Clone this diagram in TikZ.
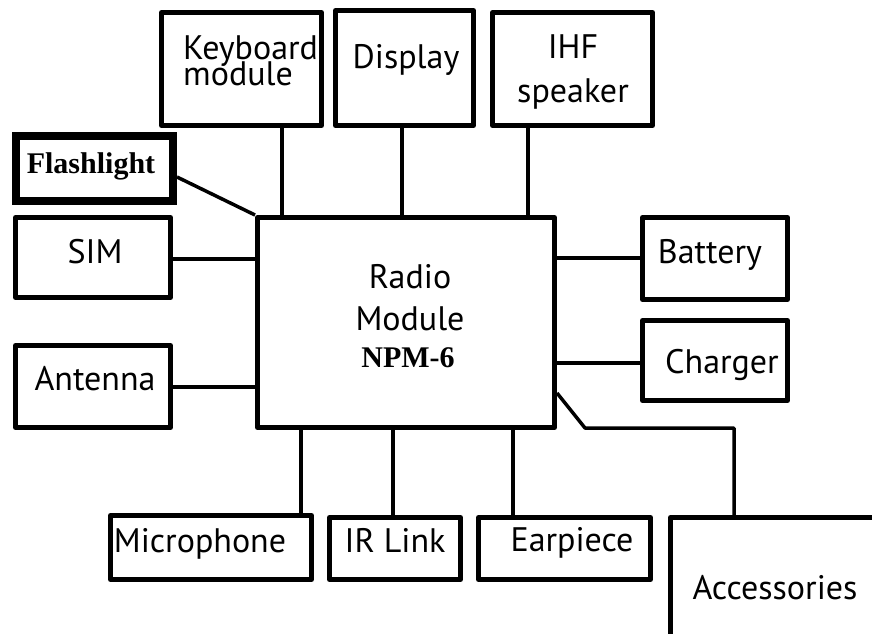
\documentclass[tikz,border=0pt]{standalone}
\usepackage{fontspec}
\setmainfont{PT Sans}
\newfontfamily\npmfont{Liberation Serif}
\begin{document}
\begin{tikzpicture}[x=1pt,y=-1pt,
  blk/.style={draw=black,line width=5pt,rectangle,inner sep=0pt,line join=round},
  thk/.style={draw=black,line width=8pt,rectangle,inner sep=0pt},
  conn/.style={draw=black,line width=3.5pt},
  txt/.style={inner sep=0pt,anchor=base,font=\fontsize{34}{25}\selectfont},
  stxt/.style={inner sep=0pt,anchor=base,font=\npmfont\bfseries\fontsize{30}{30}\selectfont}]
\useasboundingbox (0,0) rectangle (872,633);
\clip (0,0) rectangle (872,633);
% boxes
\node[blk,minimum width=160pt,minimum height=113pt] (kb) at (241.5,69) {};
\node[blk,minimum width=138pt,minimum height=115pt] (disp) at (404.5,68) {};
\node[blk,minimum width=160pt,minimum height=113pt] (ihf) at (572.5,69) {};
\node[thk,minimum width=157pt,minimum height=65pt] (flash) at (94.5,168.5) {};
\node[blk,minimum width=155pt,minimum height=80pt] (sim) at (93,257.5) {};
\node[blk,minimum width=155pt,minimum height=82pt] (ant) at (93,386.5) {};
\node[blk,minimum width=297pt,minimum height=210pt] (radio) at (406,322.5) {};
\node[blk,minimum width=145pt,minimum height=82pt] (batt) at (715,258.5) {};
\node[blk,minimum width=145pt,minimum height=80pt] (chg) at (715,360.5) {};
\node[blk,minimum width=201pt,minimum height=64pt] (mic) at (211,547.5) {};
\node[blk,minimum width=131pt,minimum height=62pt] (ir) at (395,548.5) {};
\node[blk,minimum width=172pt,minimum height=62pt] (ear) at (564.5,548.5) {};
\node[blk,minimum width=280pt,minimum height=181pt] (acc) at (810.5,608) {};
% texts
\node[txt,anchor=base west,align=left] (kbt) at (183,85) {Keyboard\\[-6pt]module};
\node[txt] (dispt) at (406,68) {Display};
\node[txt,align=center,font=\fontsize{34}{44}\selectfont] (ihft) at (573,102) {IHF\\speaker};
\node[stxt] (flasht) at (91,173) {Flashlight};
\node[txt] (simt) at (95,263) {SIM};
\node[txt] (antt) at (95,390) {Antenna};
\node[txt,align=center,font=\fontsize{34}{42}\selectfont] (radiot) at (410,330) {Radio\\Module};
\node[stxt] (npmt) at (408,367) {NPM-6};
\node[txt] (battt) at (710,263) {Battery};
\node[txt] (chgt) at (722,373) {Charger};
\node[txt] (mict) at (200,552) {Microphone};
\node[txt] (irt) at (395,552) {IR Link};
\node[txt] (eart) at (572,551) {Earpiece};
\node[txt] (acct) at (775,599) {Accessories};
% connector coordinates
\coordinate (kbx) at (282,0);
\coordinate (dispx) at (402,0);
\coordinate (ihfx) at (528,0);
\coordinate (flashy) at (0,177);
\coordinate (simy) at (0,259);
\coordinate (anty) at (0,387);
\coordinate (batty) at (0,258);
\coordinate (chgy) at (0,363);
\coordinate (micx) at (301,0);
\coordinate (irx) at (393,0);
\coordinate (earx) at (513,0);
\coordinate (accy) at (0,393);
\coordinate (accB) at (585,428);
\coordinate (accC) at (734,428);
% connectors
\draw[conn] (kb.south -| kbx) -- (radio.north -| kbx);
\draw[conn] (disp.south -| dispx) -- (radio.north -| dispx);
\draw[conn] (ihf.south -| ihfx) -- (radio.north -| ihfx);
\draw[conn] (flash.east |- flashy) -- (radio.north west);
\draw[conn] (sim.east |- simy) -- (radio.west |- simy);
\draw[conn] (ant.east |- anty) -- (radio.west |- anty);
\draw[conn] (radio.east |- batty) -- (batt.west |- batty);
\draw[conn] (radio.east |- chgy) -- (chg.west |- chgy);
\draw[conn] (radio.south -| micx) -- (mic.north -| micx);
\draw[conn] (radio.south -| irx) -- (ir.north -| irx);
\draw[conn] (radio.south -| earx) -- (ear.north -| earx);
\draw[conn,line join=round] (radio.east |- accy) -- (accB) -- (accC) -- (acc.north -| accC);
\end{tikzpicture}
\end{document}
